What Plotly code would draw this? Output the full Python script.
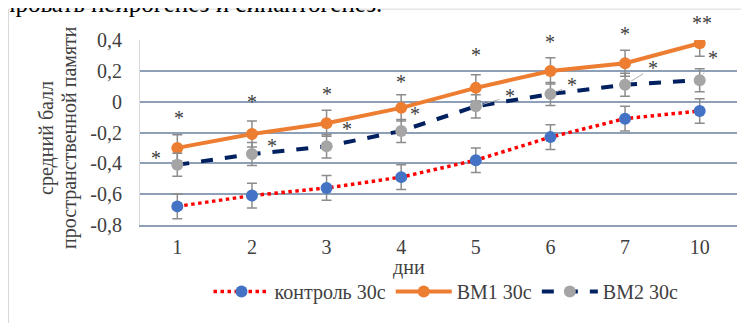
import plotly.graph_objects as go

days = ["1", "2", "3", "4", "5", "6", "7", "10"]
control = [-0.68, -0.61, -0.56, -0.49, -0.38, -0.23, -0.11, -0.06]
bm1 = [-0.30, -0.21, -0.14, -0.04, 0.09, 0.20, 0.25, 0.38]
bm2 = [-0.41, -0.34, -0.29, -0.19, -0.03, 0.05, 0.11, 0.14]
control_err = [0.08, 0.08, 0.08, 0.08, 0.08, 0.08, 0.08, 0.08]
bm1_err = [0.085, 0.085, 0.085, 0.085, 0.085, 0.085, 0.085, 0.085]
bm2_err = [0.075, 0.075, 0.075, 0.075, 0.075, 0.075, 0.075, 0.075]
bm1_sig = ["*", "*", "*", "*", "*", "*", "*", "**"]
bm2_sig = ["*", "*", "*", "*", "*", "*", "*", "*"]
y_ticks = [0.4, 0.2, 0, -0.2, -0.4, -0.6, -0.8]
y_ticklabels = ["0,4", "0,2", "0", "-0,2", "-0,4", "-0,6", "-0,8"]
names = ["контроль 30с", "ВМ1 30с", "ВМ2 30с"]
y_title = ["средний балл", "пространственной памяти"]
x_title = "дни"
page_text = "ировать нейрогенез и синаптогенез."

FONT = "Times New Roman, Liberation Serif, DejaVu Serif, serif"
FS = 20
TXT = "#404040"
GRID = "#8E9FB8"
ERR = "#8C8C8C"

# The page has an 8px body margin: figure pixel = screen pixel - 8
W, H = 741, 315
L, R, T, B = 132, 12, 32, 94
PW = W - L - R   # 597
PH = H - T - B   # 189


def px_x(sx):
    """screen x -> paper x"""
    return (sx - 8 - L) / PW


def px_y(sy):
    """screen y -> paper y"""
    return (H - B - (sy - 8)) / PH


x = list(range(len(days)))

fig = go.Figure()


def err(v):
    return dict(type="data", array=v, visible=True, color=ERR, thickness=1.5, width=5)


fig.add_trace(go.Scatter(
    x=x, y=control, name=names[0], mode="lines+markers",
    line=dict(color="#FF0000", width=3.5, dash="dot"),
    marker=dict(color="#4472C4", size=12),
    error_y=err(control_err),
))
fig.add_trace(go.Scatter(
    x=x, y=bm1, name=names[1], mode="lines+markers",
    line=dict(color="#ED7D31", width=4),
    marker=dict(color="#ED7D31", size=12),
    error_y=err(bm1_err),
))
fig.add_trace(go.Scatter(
    x=x, y=bm2, name=names[2], mode="lines+markers",
    line=dict(color="#002060", width=4, dash="dash"),
    marker=dict(color="#A5A5A5", size=12),
    error_y=err(bm2_err),
))

# significance labels
star_font = dict(family=FONT, size=FS, color=TXT)
bm1_shift = [(2, -30), (0, -32), (0, -29), (0, -26), (0, -33), (0, -29), (0, -29), (2, -20)]
for i, (xs, ys) in enumerate(bm1_shift):
    fig.add_annotation(x=x[i], y=bm1[i], text=bm1_sig[i], showarrow=False,
                       xshift=xs, yshift=-ys, font=star_font)

bm2_shift = [(-21, -7), (20, -8), (20, -17), (14, -17)]
for i, (xs, ys) in enumerate(bm2_shift):
    fig.add_annotation(x=x[i], y=bm2[i], text=bm2_sig[i], showarrow=False,
                       xshift=xs, yshift=-ys, font=star_font)

bm2_lead = [(34, -10), (22, -9), (28, -17), (13, -22)]
for j, (ax, ay) in enumerate(bm2_lead):
    i = 4 + j
    fig.add_annotation(x=x[i], y=bm2[i], text=bm2_sig[i], showarrow=True,
                       ax=ax, ay=ay, arrowhead=0, arrowwidth=1, arrowcolor="#B0B0B0",
                       standoff=7, startstandoff=4, font=star_font)

# axis titles
fig.add_annotation(xref="paper", yref="paper", x=px_x(47), y=px_y(140),
                   xanchor="center", yanchor="middle",
                   text=y_title[0], textangle=-90, showarrow=False,
                   font=dict(family=FONT, size=FS, color=TXT))
fig.add_annotation(xref="paper", yref="paper", x=px_x(70), y=px_y(140),
                   xanchor="center", yanchor="middle",
                   text=y_title[1], textangle=-90, showarrow=False,
                   font=dict(family=FONT, size=FS, color=TXT))
fig.add_annotation(xref="paper", yref="paper", x=px_x(409), y=px_y(272),
                   xanchor="center", yanchor="middle",
                   text=x_title, showarrow=False,
                   font=dict(family=FONT, size=FS, color=TXT))

# clipped line of the surrounding document text
fig.add_annotation(xref="paper", yref="paper", x=px_x(0), y=px_y(19),
                   xanchor="left", yanchor="bottom",
                   text=page_text, showarrow=False,
                   font=dict(family=FONT, size=25, color="#000000"))

# chart border
fig.add_shape(type="rect", xref="paper", yref="paper",
              x0=px_x(8.5), x1=px_x(760),
              y0=px_y(340), y1=px_y(8.5),
              line=dict(color="#D9D9D9", width=1), layer="below")

fig.update_layout(
    width=W, height=H,
    margin=dict(l=L, r=R, t=T, b=B),
    paper_bgcolor="white", plot_bgcolor="white",
    font=dict(family=FONT, size=FS, color=TXT),
    showlegend=True,
    legend=dict(orientation="h", xanchor="center", yanchor="middle",
                x=px_x(446), y=px_y(297), font=dict(family=FONT, size=FS, color=TXT),
                itemwidth=56, tracegroupgap=0),
)
fig.update_xaxes(
    tickmode="array", tickvals=x, ticktext=days,
    range=[-0.5, len(days) - 0.5],
    showgrid=False, zeroline=False,
    showline=True, linecolor=GRID, linewidth=1.5,
    ticks="outside", ticklen=3, tickcolor="rgba(0,0,0,0)",
    tickfont=dict(family=FONT, size=FS, color=TXT),
)
fig.update_yaxes(
    tickmode="array", tickvals=y_ticks, ticktext=y_ticklabels,
    range=[-0.801, 0.401],
    showgrid=True, gridcolor=GRID, gridwidth=1.5, zeroline=False,
    showline=True, linecolor="#D9D9D9", linewidth=1,
    ticks="outside", ticklen=13, tickcolor="rgba(0,0,0,0)",
    tickfont=dict(family=FONT, size=FS, color=TXT),
)

fig.write_html("out.html")
